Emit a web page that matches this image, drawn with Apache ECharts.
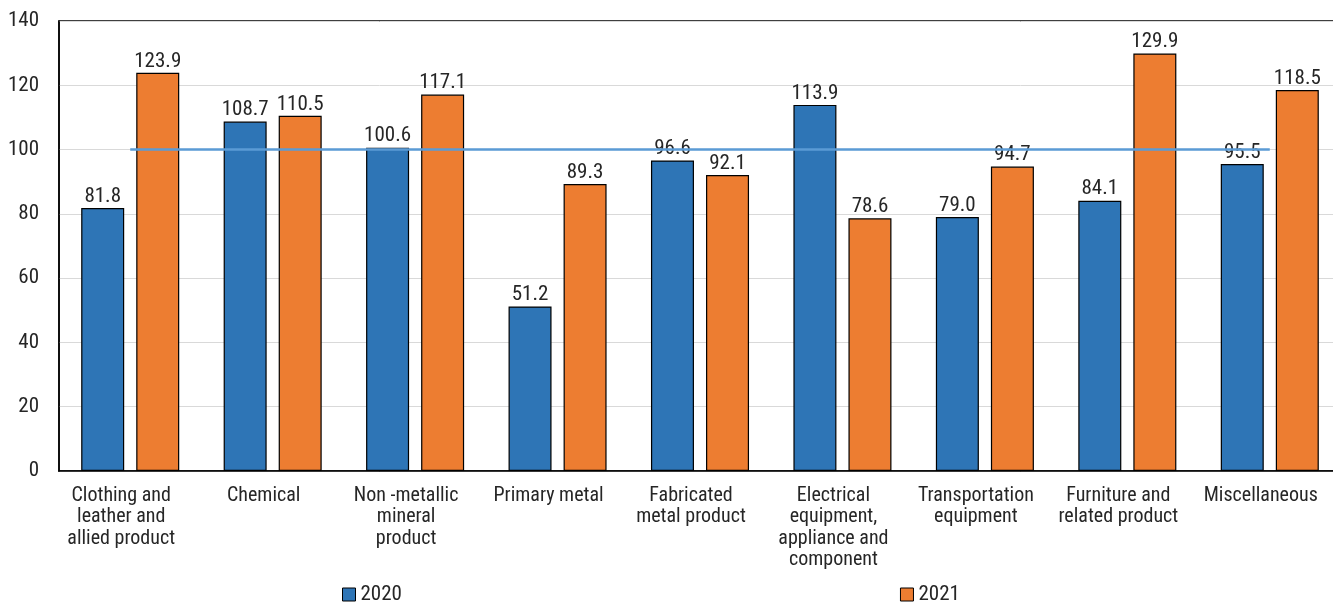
<!DOCTYPE html>
<html>
<head>
<meta charset="utf-8">
<script src="https://cdn.jsdelivr.net/npm/echarts@6/dist/echarts.min.js"></script>
<style>
  html, body { margin: 0; padding: 0; background: #fff; overflow: hidden; }
  #chart { width: 1345px; height: 603px; }
</style>
</head>
<body>
<div id="chart"></div>
<script>
// Industry groups on the category axis
const categories = [
  'Clothing and\nleather and\nallied product',
  'Chemical',
  'Non -metallic\nmineral\nproduct',
  'Primary metal',
  'Fabricated\nmetal product',
  'Electrical\nequipment,\nappliance and\ncomponent',
  'Transportation\nequipment',
  'Furniture and\nrelated product',
  'Miscellaneous'
];
const values2020 = [81.8, 108.7, 100.6, 51.2, 96.6, 113.9, 79.0, 84.1, 95.5];
const values2021 = [123.9, 110.5, 117.1, 89.3, 92.1, 78.6, 94.7, 129.9, 118.5];
const baseline = [100, 100, 100, 100, 100, 100, 100, 100, 100];
const yTicks = { min: 0, max: 140, interval: 20 };

const FONT = '"Roboto Condensed", "Liberation Sans Narrow", "DejaVu Sans Condensed", Roboto, sans-serif';
const TEXT = '#262626';

const chart = echarts.init(document.getElementById('chart'), null, { renderer: 'canvas' });

const labelStyle = {
  show: true,
  position: 'top',
  distance: 1,
  color: TEXT,
  fontFamily: FONT,
  fontSize: 21,
  formatter: p => p.value.toFixed(1)
};

chart.setOption({
  animation: false,
  textStyle: { fontFamily: FONT },
  grid: {
    left: 59,
    top: 21,
    width: 1282,
    height: 450,
    show: true,
    borderColor: '#000',
    borderWidth: 1.5,
    containLabel: false
  },
  legend: {
    top: 584,
    left: 342,
    padding: 0,
    itemGap: 498,
    itemWidth: 13,
    itemHeight: 13,
    icon: 'rect',
    textStyle: { fontFamily: FONT, fontSize: 21, color: TEXT },
    data: [
      { name: '2020', itemStyle: { borderColor: '#000', borderWidth: 1 } },
      { name: '2021', itemStyle: { borderColor: '#000', borderWidth: 1 } }
    ]
  },
  xAxis: {
    type: 'category',
    data: categories,
    axisLine: { lineStyle: { color: '#000', width: 1.5 } },
    axisTick: { show: false },
    axisLabel: {
      interval: 0,
      margin: 14,
      padding: [0, 18, 0, 0],
      color: TEXT,
      fontFamily: FONT,
      fontSize: 20,
      lineHeight: 21.5
    }
  },
  yAxis: {
    type: 'value',
    min: yTicks.min,
    max: yTicks.max,
    interval: yTicks.interval,
    axisLine: { show: true, lineStyle: { color: '#000', width: 1.5 } },
    axisTick: { show: false },
    axisLabel: {
      margin: 20,
      color: TEXT,
      fontFamily: FONT,
      fontSize: 21
    },
    splitLine: { lineStyle: { color: '#d9d9d9', width: 1 } }
  },
  series: [
    {
      name: '2020',
      type: 'bar',
      data: values2020,
      barWidth: 43,
      barGap: '28%',
      itemStyle: { color: '#2E75B6', borderColor: '#000', borderWidth: 1.2 },
      label: labelStyle
    },
    {
      name: '2021',
      type: 'bar',
      data: values2021,
      barWidth: 43,
      itemStyle: { color: '#ED7D31', borderColor: '#000', borderWidth: 1.2 },
      label: labelStyle
    },
    {
      name: 'Baseline',
      type: 'line',
      data: baseline,
      symbol: 'none',
      z: 5,
      lineStyle: { color: '#5B9BD5', width: 2.5 },
      silent: true
    }
  ]
});
</script>
</body>
</html>
